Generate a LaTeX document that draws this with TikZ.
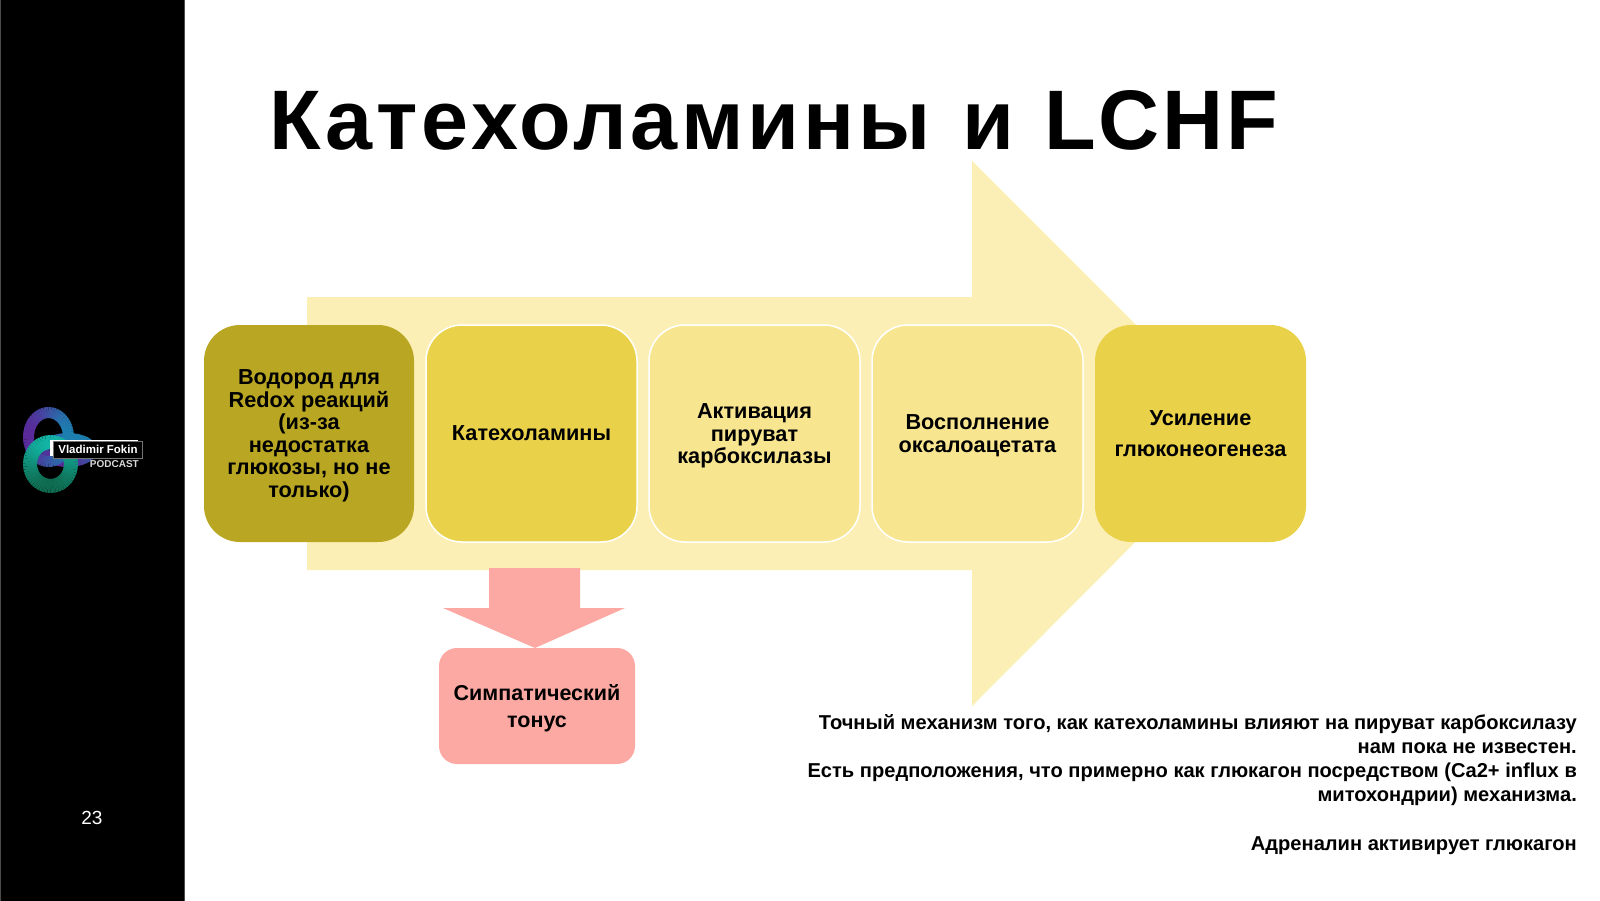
\documentclass[tikz,border=0pt]{standalone}
\usepackage{fontspec}
\setmainfont{Liberation Sans}
\usetikzlibrary{positioning}
\definecolor{arrowyellow}{HTML}{FCEFB6}
\definecolor{boxolive}{HTML}{B9A723}
\definecolor{boxyellow}{HTML}{E9D24A}
\definecolor{boxpale}{HTML}{F7E58F}
\definecolor{boxpink}{HTML}{FCA9A3}
\definecolor{ringblue}{HTML}{1C7FB0}
\definecolor{ringpurple}{HTML}{5A2A9A}
\definecolor{ringteal}{HTML}{12B5A5}
\definecolor{ringgreen}{HTML}{0F6B50}
\newcommand{\lift}{\rule{0pt}{19.5pt}}
\tikzset{
	stepbox/.style={draw=white,line width=1.5pt,rounded corners=36pt,minimum width=211pt,minimum height=217pt,inner sep=2pt,align=center,font=\bfseries\fontsize{21.7}{22.45}\selectfont},
	tonebox/.style={fill=boxpink,rounded corners=18pt,minimum width=196pt,minimum height=116pt,inner sep=0pt,align=center,font=\bfseries\fontsize{21.5}{27}\selectfont},
}
\begin{document}
\begin{tikzpicture}[x=1pt,y=-1pt,node distance=10.5pt]
	\useasboundingbox (0,0) rectangle (1600,900);
	\fill[white] (0,0) rectangle (1600,900);
	\filldraw[fill=black,draw=black!70,line width=.6pt] (.5,-2) rectangle (184.5,902);
	% big arrow
	\fill[arrowyellow] (307,297) -- (972,297) -- (972,161) -- (1244,433) -- (972,706) -- (972,570) -- (307,570) -- cycle;
	\fill[boxpink] (489,568) -- (580,568) -- (580,608) -- (625,608) -- (535,648) -- (443,608) -- (489,608) -- cycle;
	% chain of boxes
	\node [stepbox,fill=boxolive,draw=none,minimum width=210pt,minimum height=217pt] (hydrogen) at (309,433.5) {\lift Водород для\\Redox реакций\\(из-за\\недостатка\\глюкозы, но не\\только)};
	\node [stepbox,fill=boxyellow,right=of hydrogen] (catechol) {Катехоламины};
	\node [stepbox,fill=boxpale,right=of catechol] (pyruvate) {\lift Активация\\пируват\\карбоксилазы};
	\node [stepbox,fill=boxpale,right=of pyruvate] (oxalo) {\lift Восполнение\\оксалоацетата};
	\node [stepbox,fill=boxyellow,draw=none,right=of oxalo,font=\bfseries\fontsize{21.7}{31}\selectfont] (gluco) {Усиление\\глюконеогенеза};
	\node [tonebox] (tone) at (537,706) {\rule{0pt}{21pt}Симпатический\\тонус};
	% title and note
	\node [anchor=base west,inner sep=0pt,font=\bfseries\fontsize{84.5}{84.5}\selectfont\addfontfeature{LetterSpace=4.5}] (title) at (269,149) {Катехоламины\hspace{5pt} {\addfontfeature{LetterSpace=3}и\hspace{4pt} LCHF}};
	\node [anchor=north east,inner sep=0pt,align=right,font=\bfseries\fontsize{20.1}{24.2}\selectfont] (note) at (1577,714) {Точный механизм того, как катехоламины влияют на пируват карбоксилазу\\нам пока не известен.\\Есть предположения, что примерно как глюкагон посредством (Ca2+ influx в\\митохондрии) механизма.\\[24.2pt]Адреналин активирует глюкагон};
	\node [text=white,inner sep=0pt,font=\fontsize{19}{19}\selectfont] (page) at (92,818) {23};
	% logo
	\foreach \a in {0,6,...,354}{
		\pgfmathsetmacro\m{50+50*cos(\a+60)}
		\draw[line width=10pt,color=ringblue!\m!ringpurple] ({68+24*cos(\a)},{450+12*sin(\a)}) arc[start angle=\a,end angle=\a+7,x radius=24,y radius=12];
	}
	\foreach \a in {0,6,...,354}{
		\pgfmathsetmacro\m{50+50*cos(\a)}
		\draw[line width=11pt,color=ringblue!\m!ringpurple] ({48.5+20*cos(\a)},{437+24.5*sin(\a)}) arc[start angle=\a,end angle=\a+7,x radius=20,y radius=24.5];
	}
	\foreach \a in {0,6,...,354}{
		\pgfmathsetmacro\m{50-50*sin(\a)}
		\draw[line width=14pt,color=ringteal!\m!ringgreen] ({50.5+20.5*cos(\a)},{464+22*sin(\a)}) arc[start angle=\a,end angle=\a+7,x radius=20.5,y radius=22];
	}
	\fill[white] (50,439.5) rectangle (138,456);
	\node [fill=black,draw=black!55,line width=.6pt,inner sep=0pt,minimum width=89pt,minimum height=17.5pt,text=white,font=\bfseries\fontsize{11.5}{11.5}\selectfont] (logotext) at (98,449.75) {Vladimir Fokin};
	\node [anchor=east,inner sep=0pt,text=white!85!black,font=\bfseries\fontsize{10}{10}\selectfont] (podcast) at (139,464) {PODCAST};
\end{tikzpicture}
\end{document}
